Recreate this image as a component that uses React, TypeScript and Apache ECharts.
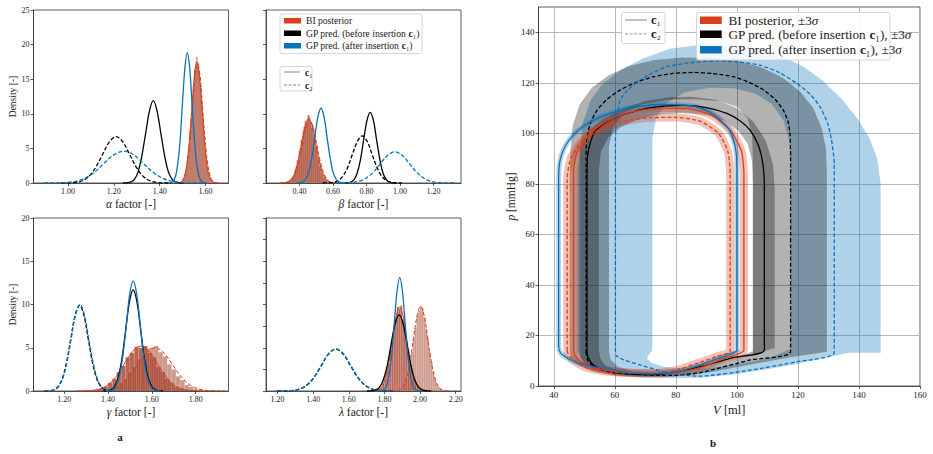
import React, { useEffect, useRef } from 'react';
import * as echarts from 'echarts';

// ---------------- DATA ----------------
// tick values
const alphaTicks = [1.0, 1.2, 1.4, 1.6];
const betaTicks = [0.4, 0.6, 0.8, 1.0, 1.2];
const gammaTicks = [1.2, 1.4, 1.6, 1.8];
const lambdaTicks = [1.2, 1.4, 1.6, 1.8, 2.0, 2.2];
const vTicks = [40, 60, 80, 100, 120, 140, 160];
const pTicks = [0, 20, 40, 60, 80, 100, 120, 140];

// BI posterior histograms (density per bin): start, bin width, values
const alphaHistC1Start = 1.49; const alphaHistC1Width = 0.005;
const alphaHistC1 = [0.1, 0.3, 0.6, 0.8, 1.7, 2.3, 3.9, 5.2, 7.6, 9.4, 12.3, 14.0, 16.4, 16.8, 18.2, 16.6, 16.1, 13.5, 11.9, 8.9, 7.1, 4.8, 3.6, 2.2, 1.5, 0.8, 0.5, 0.2, 0.15, 0.05];
const alphaHistC2Start = 1.4925; const alphaHistC2Width = 0.005;
const alphaHistC2 = [0.05, 0.2, 0.5, 1.0, 1.4, 2.6, 3.5, 5.6, 7.2, 9.9, 11.7, 14.5, 15.6, 17.6, 17.0, 17.4, 15.3, 14.1, 11.2, 9.5, 6.7, 5.2, 3.3, 2.4, 1.3, 0.9, 0.4, 0.3, 0.1, 0.05];

const betaHistC1Start = 0.28; const betaHistC1Width = 0.012;
const betaHistC1 = [0.05, 0.08, 0.1, 0.15, 0.25, 0.45, 0.8, 1.2, 2.3, 3.2, 5.0, 6.2, 8.1, 8.7, 9.8, 8.8, 8.3, 6.5, 5.3, 3.4, 2.5, 1.3, 0.9, 0.4, 0.25, 0.1, 0.06, 0.03, 0.02, 0.01];
const betaHistC2Start = 0.274; const betaHistC2Width = 0.012;
const betaHistC2 = [0.03, 0.06, 0.12, 0.12, 0.22, 0.35, 0.65, 1.1, 2.0, 3.3, 4.6, 6.3, 7.5, 9.0, 9.2, 9.5, 8.0, 7.0, 5.2, 3.8, 2.4, 1.6, 0.8, 0.5, 0.2, 0.12, 0.05, 0.03, 0.01, 0.01];

const gammaHistC1Start = 1.3; const gammaHistC1Width = 0.02;
const gammaHistC1 = [0.03, 0.08, 0.14, 0.3, 0.5, 0.95, 1.4, 2.2, 2.9, 3.9, 4.4, 5.1, 5.0, 5.2, 4.4, 3.9, 2.8, 2.2, 1.4, 0.95, 0.5, 0.3, 0.15, 0.06, 0.03, 0.01];
const gammaHistC2Start = 1.33; const gammaHistC2Width = 0.02;
const gammaHistC2 = [0.02, 0.06, 0.1, 0.2, 0.33, 0.62, 1.0, 1.4, 2.2, 2.8, 3.7, 4.2, 4.9, 5.0, 5.2, 4.5, 4.0, 3.1, 2.5, 1.7, 1.25, 0.7, 0.48, 0.24, 0.14, 0.06, 0.04, 0.02, 0.01];

const lambdaHistC1Start = 1.74; const lambdaHistC1Width = 0.01;
const lambdaHistC1 = [0.03, 0.07, 0.12, 0.3, 0.45, 0.9, 1.4, 2.3, 3.2, 4.8, 5.8, 7.6, 8.4, 9.7, 9.5, 9.9, 8.3, 7.6, 5.8, 4.7, 3.2, 2.3, 1.4, 0.9, 0.45, 0.3, 0.12, 0.07, 0.03];
const lambdaHistC2Start = 1.86; const lambdaHistC2Width = 0.01;
const lambdaHistC2 = [0.03, 0.06, 0.14, 0.26, 0.5, 0.84, 1.5, 2.2, 3.4, 4.5, 6.1, 7.3, 8.7, 9.3, 9.8, 9.6, 8.5, 7.2, 6.1, 4.5, 3.4, 2.2, 1.5, 0.85, 0.5, 0.28, 0.13, 0.06, 0.03];

// density curves [x, density]
const alphaBiC1 = [[1.472, 0.01], [1.483, 0.04], [1.495, 0.19], [1.506, 0.77], [1.517, 2.37], [1.528, 5.68], [1.54, 10.6], [1.551, 15.4], [1.562, 17.5], [1.573, 15.4], [1.585, 10.6], [1.596, 5.68], [1.607, 2.37], [1.618, 0.77], [1.63, 0.19], [1.641, 0.04], [1.652, 0.01]];
const alphaBiC2 = [[1.473, 0.01], [1.485, 0.04], [1.496, 0.19], [1.508, 0.76], [1.519, 2.33], [1.531, 5.58], [1.542, 10.4], [1.554, 15.2], [1.565, 17.2], [1.577, 15.2], [1.588, 10.4], [1.6, 5.58], [1.611, 2.33], [1.623, 0.76], [1.634, 0.19], [1.646, 0.04], [1.657, 0.01]];
const alphaGpBeforeC1 = [[1.24, 0.0], [1.256, 0.03], [1.273, 0.13], [1.29, 0.52], [1.306, 1.61], [1.322, 3.86], [1.339, 7.22], [1.356, 10.5], [1.372, 11.9], [1.388, 10.5], [1.405, 7.22], [1.422, 3.86], [1.438, 1.61], [1.455, 0.52], [1.471, 0.13], [1.488, 0.03], [1.504, 0.0]];
const alphaGpBeforeC2 = [[0.97, 0.0], [1.0, 0.01], [1.03, 0.07], [1.06, 0.29], [1.09, 0.91], [1.12, 2.18], [1.15, 4.06], [1.18, 5.91], [1.21, 6.7], [1.24, 5.91], [1.27, 4.06], [1.3, 2.18], [1.33, 0.91], [1.36, 0.29], [1.39, 0.07], [1.42, 0.01], [1.45, 0.0]];
const alphaGpAfterC1 = [[1.436, 0.01], [1.447, 0.04], [1.457, 0.21], [1.468, 0.83], [1.478, 2.54], [1.489, 6.1], [1.499, 11.4], [1.51, 16.6], [1.52, 18.8], [1.531, 16.6], [1.541, 11.4], [1.552, 6.1], [1.562, 2.54], [1.573, 0.83], [1.583, 0.21], [1.594, 0.04], [1.604, 0.01]];
const alphaGpAfterC2 = [[0.895, 0.0], [0.938, 0.01], [0.982, 0.05], [1.026, 0.2], [1.069, 0.62], [1.113, 1.49], [1.156, 2.79], [1.2, 4.06], [1.243, 4.6], [1.287, 4.06], [1.33, 2.79], [1.374, 1.49], [1.417, 0.62], [1.461, 0.2], [1.504, 0.05], [1.548, 0.01], [1.591, 0.0]];

const betaBiC1 = [[0.283, 0.0], [0.305, 0.02], [0.326, 0.1], [0.348, 0.41], [0.369, 1.26], [0.391, 3.02], [0.412, 5.64], [0.434, 8.21], [0.455, 9.3], [0.477, 8.21], [0.498, 5.64], [0.52, 3.02], [0.541, 1.26], [0.563, 0.41], [0.584, 0.1], [0.606, 0.02], [0.627, 0.0]];
const betaBiC2 = [[0.284, 0.0], [0.306, 0.02], [0.328, 0.1], [0.35, 0.4], [0.372, 1.23], [0.394, 2.95], [0.416, 5.52], [0.438, 8.03], [0.46, 9.1], [0.482, 8.03], [0.504, 5.52], [0.526, 2.95], [0.548, 1.23], [0.57, 0.4], [0.592, 0.1], [0.614, 0.02], [0.636, 0.0]];
const betaGpBeforeC1 = [[0.666, 0.0], [0.686, 0.02], [0.705, 0.11], [0.725, 0.45], [0.744, 1.38], [0.764, 3.31], [0.783, 6.19], [0.803, 9.0], [0.822, 10.2], [0.842, 9.0], [0.861, 6.19], [0.881, 3.31], [0.9, 1.38], [0.92, 0.45], [0.939, 0.11], [0.959, 0.02], [0.978, 0.0]];
const betaGpBeforeC2 = [[0.539, 0.0], [0.569, 0.01], [0.598, 0.08], [0.628, 0.3], [0.657, 0.92], [0.687, 2.21], [0.716, 4.12], [0.746, 6.0], [0.775, 6.8], [0.805, 6.0], [0.834, 4.12], [0.864, 2.21], [0.893, 0.92], [0.923, 0.3], [0.952, 0.08], [0.982, 0.01], [1.011, 0.0]];
const betaGpAfterC1 = [[0.38, 0.0], [0.398, 0.02], [0.417, 0.12], [0.436, 0.47], [0.454, 1.46], [0.473, 3.51], [0.491, 6.55], [0.51, 9.53], [0.528, 10.8], [0.547, 9.53], [0.565, 6.55], [0.584, 3.51], [0.602, 1.46], [0.621, 0.47], [0.639, 0.12], [0.658, 0.02], [0.676, 0.0]];
const betaGpAfterC2 = [[0.614, 0.0], [0.659, 0.01], [0.703, 0.05], [0.748, 0.2], [0.792, 0.61], [0.837, 1.46], [0.881, 2.73], [0.926, 3.97], [0.97, 4.5], [1.015, 3.97], [1.059, 2.73], [1.104, 1.46], [1.148, 0.61], [1.193, 0.2], [1.237, 0.05], [1.282, 0.01], [1.326, 0.0]];

const gammaBiC1 = [[1.25, 0.0], [1.288, 0.01], [1.325, 0.06], [1.363, 0.23], [1.4, 0.7], [1.438, 1.69], [1.475, 3.15], [1.513, 4.59], [1.55, 5.2], [1.588, 4.59], [1.625, 3.15], [1.663, 1.69], [1.7, 0.7], [1.738, 0.23], [1.775, 0.06], [1.813, 0.01], [1.85, 0.0]];
const gammaBiC2 = [[1.295, 0.0], [1.335, 0.01], [1.375, 0.06], [1.415, 0.22], [1.455, 0.68], [1.495, 1.62], [1.535, 3.03], [1.575, 4.41], [1.615, 5.0], [1.655, 4.41], [1.695, 3.03], [1.735, 1.62], [1.775, 0.68], [1.815, 0.22], [1.855, 0.06], [1.895, 0.01], [1.935, 0.0]];
const gammaGpBeforeC1 = [[1.379, 0.0], [1.396, 0.03], [1.413, 0.13], [1.43, 0.51], [1.447, 1.58], [1.464, 3.8], [1.481, 7.1], [1.498, 10.33], [1.515, 11.7], [1.532, 10.33], [1.549, 7.1], [1.566, 3.8], [1.583, 1.58], [1.6, 0.51], [1.617, 0.13], [1.634, 0.03], [1.651, 0.0]];
const gammaGpBeforeC2 = [[1.11, 0.0], [1.13, 0.02], [1.15, 0.11], [1.17, 0.43], [1.19, 1.34], [1.21, 3.21], [1.23, 6.0], [1.25, 8.74], [1.27, 9.9], [1.29, 8.74], [1.31, 6.0], [1.33, 3.21], [1.35, 1.34], [1.37, 0.43], [1.39, 0.11], [1.41, 0.02], [1.43, 0.0]];
const gammaGpAfterC1 = [[1.389, 0.0], [1.405, 0.03], [1.421, 0.14], [1.436, 0.56], [1.452, 1.72], [1.468, 4.12], [1.484, 7.7], [1.499, 11.2], [1.515, 12.7], [1.531, 11.2], [1.547, 7.7], [1.562, 4.12], [1.578, 1.72], [1.594, 0.56], [1.61, 0.14], [1.625, 0.03], [1.641, 0.0]];
const gammaGpAfterC2 = [[1.112, 0.0], [1.132, 0.02], [1.152, 0.11], [1.172, 0.44], [1.192, 1.35], [1.212, 3.25], [1.232, 6.07], [1.252, 8.83], [1.272, 10.0], [1.292, 8.83], [1.312, 6.07], [1.332, 3.25], [1.352, 1.35], [1.372, 0.44], [1.392, 0.11], [1.412, 0.02], [1.432, 0.0]];

const lambdaBiC1 = [[1.721, 0.0], [1.742, 0.02], [1.762, 0.11], [1.783, 0.43], [1.803, 1.31], [1.824, 3.15], [1.844, 5.88], [1.865, 8.56], [1.885, 9.7], [1.906, 8.56], [1.926, 5.88], [1.947, 3.15], [1.967, 1.31], [1.988, 0.43], [2.008, 0.11], [2.029, 0.02], [2.049, 0.0]];
const lambdaBiC2 = [[1.839, 0.0], [1.86, 0.02], [1.88, 0.11], [1.901, 0.43], [1.921, 1.33], [1.942, 3.18], [1.962, 5.94], [1.983, 8.65], [2.003, 9.8], [2.024, 8.65], [2.044, 5.94], [2.065, 3.18], [2.085, 1.33], [2.106, 0.43], [2.126, 0.11], [2.147, 0.02], [2.167, 0.0]];
const lambdaGpBeforeC1 = [[1.702, 0.0], [1.725, 0.02], [1.747, 0.1], [1.77, 0.39], [1.792, 1.19], [1.815, 2.86], [1.837, 5.34], [1.86, 7.77], [1.882, 8.8], [1.905, 7.77], [1.927, 5.34], [1.95, 2.86], [1.972, 1.19], [1.995, 0.39], [2.017, 0.1], [2.04, 0.02], [2.062, 0.0]];
const lambdaGpBeforeC2 = [[1.199, 0.0], [1.24, 0.01], [1.281, 0.05], [1.322, 0.21], [1.363, 0.66], [1.404, 1.57], [1.445, 2.94], [1.486, 4.28], [1.527, 4.85], [1.568, 4.28], [1.609, 2.94], [1.65, 1.57], [1.691, 0.66], [1.732, 0.21], [1.773, 0.05], [1.814, 0.01], [1.855, 0.0]];
const lambdaGpAfterC1 = [[1.766, 0.0], [1.781, 0.03], [1.796, 0.15], [1.811, 0.58], [1.826, 1.77], [1.841, 4.25], [1.856, 7.95], [1.871, 11.56], [1.886, 13.1], [1.901, 11.56], [1.916, 7.95], [1.931, 4.25], [1.946, 1.77], [1.961, 0.58], [1.976, 0.15], [1.991, 0.03], [2.006, 0.0]];
const lambdaGpAfterC2 = [[1.201, 0.0], [1.242, 0.01], [1.283, 0.05], [1.324, 0.21], [1.365, 0.66], [1.406, 1.58], [1.447, 2.95], [1.488, 4.3], [1.529, 4.87], [1.57, 4.3], [1.611, 2.95], [1.652, 1.58], [1.693, 0.66], [1.734, 0.21], [1.775, 0.05], [1.816, 0.01], [1.857, 0.0]];

// PV loops [V ml, p mmHg]
const pvBiC1 = [[46.5, 14], [46.5, 40], [46.5, 70], [46.5, 85], [47.5, 92], [51, 99], [57, 104.5], [65, 108.3], [75, 110], [84, 109.8], [92, 107], [98, 101], [101.5, 93], [102.3, 84], [102.3, 60], [102.3, 14.2], [95, 10.6], [88, 7.3], [80, 5.4], [72, 4.9], [62, 5.5], [54, 7], [49, 9.5], [47, 12], [46.5, 14]];
const pvBiC2 = [[44.4, 14], [44.4, 50], [44.4, 82], [45.5, 90], [49, 96.5], [55, 101.5], [63, 104.8], [72, 106.2], [80, 106.3], [88, 104.8], [94, 100], [97, 93], [97.8, 84], [97.8, 50], [97.8, 13.8], [93, 11.6], [88, 9.4], [81, 6.6], [74, 5.2], [66, 5], [58, 5.6], [50, 7.5], [46, 10.5], [44.6, 13], [44.4, 14]];
const pvGpBeforeC1 = [[50.9, 14], [50.9, 50], [50.9, 85], [51.3, 93], [53.1, 100], [56, 103.5], [59.6, 105.9], [65, 108.2], [70.5, 109.9], [76, 110.8], [82.5, 111.1], [90, 110.2], [96.7, 107.9], [101, 105], [104.3, 101.3], [106.8, 96], [108.1, 90.8], [108.8, 85], [109, 78.9], [109, 50], [109, 14.2], [99, 11.3], [88, 7.7], [80, 5.5], [72, 4.5], [64, 4.8], [57, 6], [53, 8.3], [51.2, 11.5], [50.9, 14]];
const pvGpBeforeC2 = [[50.6, 13], [50.6, 50], [50.6, 90], [50.8, 97.4], [52, 104], [54.2, 109.2], [57.5, 113.5], [61.8, 117.2], [67, 120.2], [72.7, 122.4], [79, 123.7], [85.8, 124.1], [92, 123.7], [98.9, 122.4], [104, 120.2], [108.7, 117.2], [112.5, 113.5], [115.2, 109.2], [116.8, 104.5], [117.4, 100], [117.6, 90.8], [117.6, 50], [117.6, 13.6], [104.4, 10.3], [88, 5.3], [78, 4.2], [68, 4.5], [60, 5.3], [54, 7], [51.2, 10], [50.6, 13]];
const pvGpAfterC1 = [[41.6, 15], [41.6, 50], [41.6, 80], [41.7, 86], [42.4, 91], [44, 95.5], [46.5, 99.5], [50, 103], [55, 106.3], [61.8, 109.2], [68, 110.7], [74.9, 111.5], [80, 111.4], [85.8, 110.8], [91, 108.5], [94.5, 105.3], [97.5, 101.5], [98.9, 97.4], [99.8, 92], [100, 86], [100, 50], [100, 14.2], [94, 11], [88, 8.3], [80, 5.6], [71.7, 4.8], [62, 5.6], [57.6, 6.8], [50, 8.4], [45.6, 10.3], [42.4, 12.8], [41.6, 15]];
const pvGpAfterC2 = [[60.2, 13.5], [60.2, 50], [60.2, 95], [60.4, 103], [61.8, 113.2], [64.5, 117.5], [68.3, 121.1], [72.5, 124], [77.1, 126.4], [85, 128], [93.4, 128.6], [100, 128.3], [107.6, 127], [114, 124], [119.6, 119.8], [124, 115.5], [127.2, 110.6], [129.7, 104], [131, 97.4], [131.9, 88], [131.9, 78.9], [131.9, 50], [131.9, 13.3], [119.7, 9.6], [104.4, 6.3], [88, 3.9], [80, 4.6], [74, 6.3], [68.4, 8.3], [63, 10.3], [60.3, 12.2], [60.2, 13.5]];

// ±3σ band boundaries [V, p] (outer and inner loops)
const bandBeforeC1Outer = [[47.8, 14], [47.8, 60], [47.8, 86], [48.8, 95], [51.5, 101], [56, 105.5], [62, 109.5], [70, 112.8], [78, 114.3], [85, 114.5], [93, 113.3], [100, 110], [105.5, 104.5], [109.5, 97], [111.8, 88], [112.4, 78], [112.4, 40], [112.4, 15], [106, 12.6], [98, 10.2], [90, 7.6], [82, 5.5], [74, 4.2], [66, 4.2], [58, 5.2], [52.5, 7.3], [49.3, 10.2], [47.8, 14]];
const bandBeforeC1Inner = [[54.8, 14], [54.8, 60], [54.8, 86], [55.5, 93], [58, 98.5], [62, 102.5], [67.5, 105.5], [74, 107.5], [82, 108], [90, 107.3], [96, 105], [100.5, 101], [103.5, 96], [105, 89], [105.3, 80], [105.3, 40], [105.3, 13.8], [100, 11.6], [92, 8.8], [84, 6.5], [76, 5.0], [68, 5.0], [61, 6], [57, 8], [55.3, 10.8], [54.8, 14]];
const bandBeforeC2Outer = [[45.4, 13], [45.4, 60], [45.4, 92], [46.2, 103], [48.5, 111.5], [52.5, 118], [58, 123], [65, 126.7], [73, 129], [82, 130], [91, 129.8], [100, 128.7], [108, 126.2], [115, 122], [120.8, 116.5], [125, 110], [127.8, 102], [129.2, 94], [129.5, 85], [129.5, 40], [129.5, 13.6], [118, 11.5], [105, 8.6], [92, 5.6], [84, 4.2], [76, 3.6], [68, 3.7], [60, 4.3], [52, 6.0], [47.5, 8.8], [45.8, 11], [45.4, 13]];
const bandBeforeC2Inner = [[58.1, 13.5], [58.1, 60], [58.1, 95], [59.5, 102.5], [63, 108], [69, 111.5], [77, 113.2], [86, 113.5], [94, 112.8], [100, 110.5], [103.5, 106], [105, 99], [105.2, 90], [105.2, 40], [105.2, 12.5], [98, 10.2], [90, 7.8], [82, 5.8], [74, 5.2], [66, 5.8], [61, 7.6], [58.6, 10.5], [58.1, 13.5]];
const bandAfterC2Outer = [[48.6, 14], [48.6, 60], [48.6, 93], [49.5, 104], [52, 113], [56, 119.5], [61.8, 125], [69, 129.5], [78, 133.5], [89, 135.2], [100, 135], [108, 133.5], [115, 130.5], [121.7, 126.5], [128, 121], [134.8, 113], [140, 105], [143.5, 98], [146, 90], [147.1, 80], [147.1, 40], [147.1, 13.2], [136.5, 13.2], [134.9, 12.7], [128, 11], [119.7, 8.7], [110, 6.6], [99, 4.6], [88, 3.3], [78, 3.2], [68, 3.5], [60, 4.2], [53, 6], [50, 9], [48.8, 11.5], [48.6, 14]];
const bandAfterC2Inner = [[72.3, 14], [72.3, 60], [72.3, 98], [73.5, 106], [77, 112], [83, 116.3], [91, 118], [99, 117.8], [106, 115.8], [111.5, 111.5], [115.3, 105], [117.2, 97], [117.5, 88], [117.5, 40], [117.5, 14.5], [110, 10.8], [100, 8.6], [90, 7], [82, 6.8], [76, 7.6], [72, 9.2], [70.5, 10.8], [71.3, 12.8], [72.3, 14]];

// ---------------- STYLE ----------------
const FONT = "'Liberation Serif', 'DejaVu Serif', serif";
const RED = '#d7401c';
const BLUE = '#0a72ba';
const BLACK = '#000000';
const FRAME = '#333333';
const TXT = '#1a1a1a';
const HIST_C1 = 'rgba(158, 42, 16, 0.72)';
const HIST_C2 = 'rgba(160, 70, 48, 0.55)';

function xAx(gi: number, min: number, max: number, ticks: number[], name: string, fmt: (v: number) => string, fs = 8, nfs = 11.5, gap = 15, grid = false) {
  return {
    type: 'value', gridIndex: gi, min, max,
    axisLine: { show: true, onZero: false, lineStyle: { color: FRAME, width: 0.8 } },
    axisTick: { show: true, length: 3, customValues: ticks, lineStyle: { color: FRAME, width: 0.8 } },
    axisLabel: { show: true, customValues: ticks, formatter: fmt, fontFamily: FONT, fontSize: fs, color: TXT, margin: 4 },
    splitLine: { show: grid, lineStyle: { color: '#b8b8b8', width: 1 } },
    name, nameLocation: 'middle', nameGap: gap,
    nameTextStyle: { fontFamily: FONT, fontSize: nfs, color: TXT, rich: { i: { fontFamily: FONT, fontSize: nfs, fontStyle: 'italic', color: TXT } } },
  };
}

function yAx(gi: number, min: number, max: number, ticks: number[], showLabels: boolean, name: string, fs = 8, nfs = 9.5, gap = 15, grid = false) {
  return {
    type: 'value', gridIndex: gi, min, max,
    axisLine: { show: true, onZero: false, lineStyle: { color: FRAME, width: 0.8 } },
    axisTick: { show: true, length: 3, customValues: ticks, lineStyle: { color: FRAME, width: 0.8 } },
    axisLabel: { show: showLabels, customValues: ticks, formatter: (v: number) => String(v), fontFamily: FONT, fontSize: fs, color: TXT, margin: 4 },
    splitLine: { show: grid, lineStyle: { color: '#b8b8b8', width: 1 } },
    name, nameLocation: 'middle', nameGap: gap,
    nameTextStyle: { fontFamily: FONT, fontSize: nfs, color: TXT, rich: { i: { fontFamily: FONT, fontSize: nfs, fontStyle: 'italic', color: TXT } } },
  };
}

function histSeries(idx: number, start: number, width: number, values: number[], color: string) {
  const data = values.map((v, i) => [start + i * width, start + (i + 1) * width, v]);
  return {
    type: 'custom', xAxisIndex: idx, yAxisIndex: idx, data, clip: true, silent: true, z: 2,
    encode: { x: [0, 1], y: 2 },
    renderItem: (_p: any, api: any) => {
      const a = api.coord([api.value(0), api.value(2)]);
      const b = api.coord([api.value(1), 0]);
      return { type: 'rect', shape: { x: a[0], y: a[1], width: b[0] - a[0], height: b[1] - a[1] }, style: { fill: color, stroke: 'rgba(255,235,225,0.35)', lineWidth: 0.4 } };
    },
  };
}

function curve(idx: number, data: number[][], color: string, dashed: boolean, width = 1.3, z = 3) {
  return {
    type: 'line', xAxisIndex: idx, yAxisIndex: idx, data, showSymbol: false, symbol: 'none', smooth: 0.35, z, silent: true,
    lineStyle: { color, width, type: dashed ? [4, 2] : 'solid' },
  };
}

function pvLine(data: number[][], color: string, dashed: boolean, width = 1.3, z = 5) {
  return {
    type: 'line', xAxisIndex: 4, yAxisIndex: 4, data, showSymbol: false, symbol: 'none', smooth: 0.2, z, silent: true,
    lineStyle: { color, width, type: dashed ? [4, 2.2] : 'solid' },
  };
}

function band(outer: number[][], inner: number[][], color: string) {
  return {
    type: 'custom', xAxisIndex: 4, yAxisIndex: 4, data: [[80, 50]], clip: true, silent: true, z: 1,
    encode: { x: 0, y: 1 },
    renderItem: (_p: any, api: any) => {
      const pts = outer.concat(inner.slice().reverse()).map((p) => api.coord(p));
      return { type: 'polygon', shape: { points: pts }, style: { fill: color } };
    },
  };
}

function panelSeries(idx: number, h1: [number, number, number[]], h2: [number, number, number[]], bi1: number[][], bi2: number[][], gb1: number[][], gb2: number[][], ga1: number[][], ga2: number[][]) {
  return [
    histSeries(idx, h1[0], h1[1], h1[2], HIST_C1),
    histSeries(idx, h2[0], h2[1], h2[2], HIST_C2),
    curve(idx, bi1, RED, false, 1.0),
    curve(idx, bi2, RED, true, 1.0),
    curve(idx, gb1, BLACK, false, 1.3, 4),
    curve(idx, gb2, BLACK, true, 1.3, 4),
    curve(idx, ga1, BLUE, false, 1.3, 5),
    curve(idx, ga2, BLUE, true, 1.3, 5),
  ];
}

const f2 = (v: number) => v.toFixed(2);
const f0 = (v: number) => String(v);

function legendText(x: number, y: number, text: string, fs: number) {
  return {
    type: 'text', x, y, silent: true,
    style: {
      text, fontFamily: FONT, fontSize: fs, fill: TXT, align: 'left', verticalAlign: 'middle',
      rich: {
        b: { fontFamily: FONT, fontWeight: 'bold', fontSize: fs, fill: TXT },
        i: { fontFamily: FONT, fontStyle: 'italic', fontSize: fs, fill: TXT },
      },
    },
  };
}

export default function App() {
  const ref = useRef<HTMLDivElement>(null);
  useEffect(() => {
    if (!ref.current) return;
    const chart = echarts.init(ref.current, undefined, { renderer: 'svg' });
    const gridStyle = { show: true, borderColor: FRAME, borderWidth: 0.8, backgroundColor: 'transparent', containLabel: false };
    const option: any = {
      animation: false,
      backgroundColor: '#ffffff',
      grid: [
        { ...gridStyle, left: 33.5, top: 10, width: 195, height: 173 },
        { ...gridStyle, left: 266, top: 10, width: 195, height: 173 },
        { ...gridStyle, left: 33.5, top: 218, width: 195, height: 173 },
        { ...gridStyle, left: 266, top: 218, width: 195, height: 173 },
        { ...gridStyle, left: 538.5, top: 7, width: 381.5, height: 379 },
      ],
      xAxis: [
        xAx(0, 0.85, 1.7, alphaTicks, '{i|α} factor [-]', f2),
        xAx(1, 0.2, 1.365, betaTicks, '{i|β} factor [-]', f2),
        xAx(2, 1.06, 1.95, gammaTicks, '{i|γ} factor [-]', f2),
        xAx(3, 1.135, 2.23, lambdaTicks, '{i|λ} factor [-]', f2),
        xAx(4, 35, 160, vTicks, '{i|V} [ml]', f0, 9, 12.5, 16, true),
      ],
      yAxis: [
        yAx(0, 0, 25, [0, 5, 10, 15, 20, 25], true, 'Density [-]', 8, 9.5, 14),
        yAx(1, 0, 25, [0, 5, 10, 15, 20, 25], false, ''),
        yAx(2, 0, 20, [0, 5, 10, 15, 20], true, 'Density [-]', 8, 9.5, 14),
        yAx(3, 0, 20, [0, 2.5, 5, 7.5, 10, 12.5, 15, 17.5, 20], false, ''),
        yAx(4, 0, 150, pTicks, true, '{i|p} [mmHg]', 9, 11.5, 15, true),
      ],
      series: [
        ...panelSeries(0, [alphaHistC1Start, alphaHistC1Width, alphaHistC1], [alphaHistC2Start, alphaHistC2Width, alphaHistC2], alphaBiC1, alphaBiC2, alphaGpBeforeC1, alphaGpBeforeC2, alphaGpAfterC1, alphaGpAfterC2),
        ...panelSeries(1, [betaHistC1Start, betaHistC1Width, betaHistC1], [betaHistC2Start, betaHistC2Width, betaHistC2], betaBiC1, betaBiC2, betaGpBeforeC1, betaGpBeforeC2, betaGpAfterC1, betaGpAfterC2),
        ...panelSeries(2, [gammaHistC1Start, gammaHistC1Width, gammaHistC1], [gammaHistC2Start, gammaHistC2Width, gammaHistC2], gammaBiC1, gammaBiC2, gammaGpBeforeC1, gammaGpBeforeC2, gammaGpAfterC1, gammaGpAfterC2),
        ...panelSeries(3, [lambdaHistC1Start, lambdaHistC1Width, lambdaHistC1], [lambdaHistC2Start, lambdaHistC2Width, lambdaHistC2], lambdaBiC1, lambdaBiC2, lambdaGpBeforeC1, lambdaGpBeforeC2, lambdaGpAfterC1, lambdaGpAfterC2),
        band(bandAfterC2Outer, bandAfterC2Inner, 'rgba(10, 114, 186, 0.32)'),
        band(bandBeforeC2Outer, bandBeforeC2Inner, 'rgba(0, 0, 0, 0.3)'),
        band(bandBeforeC1Outer, bandBeforeC1Inner, 'rgba(0, 0, 0, 0.3)'),
        pvLine(pvBiC1, 'rgba(215, 64, 28, 0.32)', false, 8, 3),
        pvLine(pvBiC2, 'rgba(215, 64, 28, 0.32)', false, 8, 3),
        pvLine(pvGpAfterC1, 'rgba(10, 114, 186, 0.3)', false, 5, 3),
        pvLine(pvGpBeforeC2, BLACK, true),
        pvLine(pvGpBeforeC1, BLACK, false),
        pvLine(pvBiC2, RED, true),
        pvLine(pvBiC1, RED, false),
        pvLine(pvGpAfterC2, BLUE, true),
        pvLine(pvGpAfterC1, BLUE, false),
      ],
      graphic: [
        // legend in beta panel
        { type: 'rect', shape: { x: 280, y: 14, width: 142, height: 39.5, r: 2 }, style: { fill: 'rgba(255,255,255,0.85)', stroke: '#cccccc', lineWidth: 0.8 }, z: 50 },
        { type: 'rect', shape: { x: 284, y: 18, width: 17, height: 5.5 }, style: { fill: RED }, z: 51 },
        { type: 'rect', shape: { x: 284, y: 30.5, width: 17, height: 5.5 }, style: { fill: BLACK }, z: 51 },
        { type: 'rect', shape: { x: 284, y: 43, width: 17, height: 5.5 }, style: { fill: BLUE }, z: 51 },
        { ...legendText(306, 20.8, 'BI posterior', 9.6), z: 51 },
        { ...legendText(306, 33.3, 'GP pred. (before insertion {b|c}₁)', 9.6), z: 51 },
        { ...legendText(306, 45.8, 'GP pred. (after insertion {b|c}₁)', 9.6), z: 51 },
        { type: 'rect', shape: { x: 280, y: 66.5, width: 32, height: 24.5, r: 2 }, style: { fill: 'rgba(255,255,255,0.85)', stroke: '#cccccc', lineWidth: 0.8 }, z: 50 },
        { type: 'line', shape: { x1: 284, y1: 72, x2: 300, y2: 72 }, style: { stroke: '#888888', lineWidth: 1 }, z: 51 },
        { type: 'line', shape: { x1: 284, y1: 85, x2: 300, y2: 85 }, style: { stroke: '#888888', lineWidth: 1, lineDash: [3, 1.5] }, z: 51 },
        { ...legendText(305, 72, '{b|c}₁', 9.6), z: 51 },
        { ...legendText(305, 85, '{b|c}₂', 9.6), z: 51 },
        // legends in PV panel
        { type: 'rect', shape: { x: 621.5, y: 12.5, width: 43.5, height: 31, r: 2 }, style: { fill: 'rgba(255,255,255,0.85)', stroke: '#cccccc', lineWidth: 0.8 }, z: 50 },
        { type: 'line', shape: { x1: 625, y1: 20, x2: 647, y2: 20 }, style: { stroke: '#999999', lineWidth: 1.2 }, z: 51 },
        { type: 'line', shape: { x1: 625, y1: 34, x2: 647, y2: 34 }, style: { stroke: '#999999', lineWidth: 1.2, lineDash: [3, 1.6] }, z: 51 },
        { ...legendText(651, 20, '{b|c}₁', 12.5), z: 51 },
        { ...legendText(651, 34, '{b|c}₂', 12.5), z: 51 },
        { type: 'rect', shape: { x: 696.5, y: 12.5, width: 193.5, height: 47.5, r: 2 }, style: { fill: 'rgba(255,255,255,0.85)', stroke: '#cccccc', lineWidth: 0.8 }, z: 50 },
        { type: 'rect', shape: { x: 700, y: 16.5, width: 21.7, height: 7.5 }, style: { fill: RED }, z: 51 },
        { type: 'rect', shape: { x: 700, y: 30.5, width: 21.7, height: 7.5 }, style: { fill: BLACK }, z: 51 },
        { type: 'rect', shape: { x: 700, y: 46, width: 21.7, height: 7.5 }, style: { fill: BLUE }, z: 51 },
        { ...legendText(728.5, 20.3, 'BI posterior, ±3{i|σ}', 13.2), z: 51 },
        { ...legendText(728.5, 34.3, 'GP pred. (before insertion {b|c}₁), ±3{i|σ}', 13.2), z: 51 },
        { ...legendText(728.5, 49.8, 'GP pred. (after insertion {b|c}₁), ±3{i|σ}', 13.2), z: 51 },
        // panel labels
        { type: 'text', x: 120, y: 437, style: { text: 'a', fontFamily: FONT, fontSize: 11, fontWeight: 'bold', fill: TXT, align: 'center', verticalAlign: 'middle' } },
        { type: 'text', x: 713, y: 443, style: { text: 'b', fontFamily: FONT, fontSize: 11, fontWeight: 'bold', fill: TXT, align: 'center', verticalAlign: 'middle' } },
      ],
    };
    chart.setOption(option);
    return () => chart.dispose();
  }, []);
  return <div ref={ref} style={{ position: 'fixed', left: 0, top: 0, width: 933, height: 454, background: '#fff' }} />;
}
